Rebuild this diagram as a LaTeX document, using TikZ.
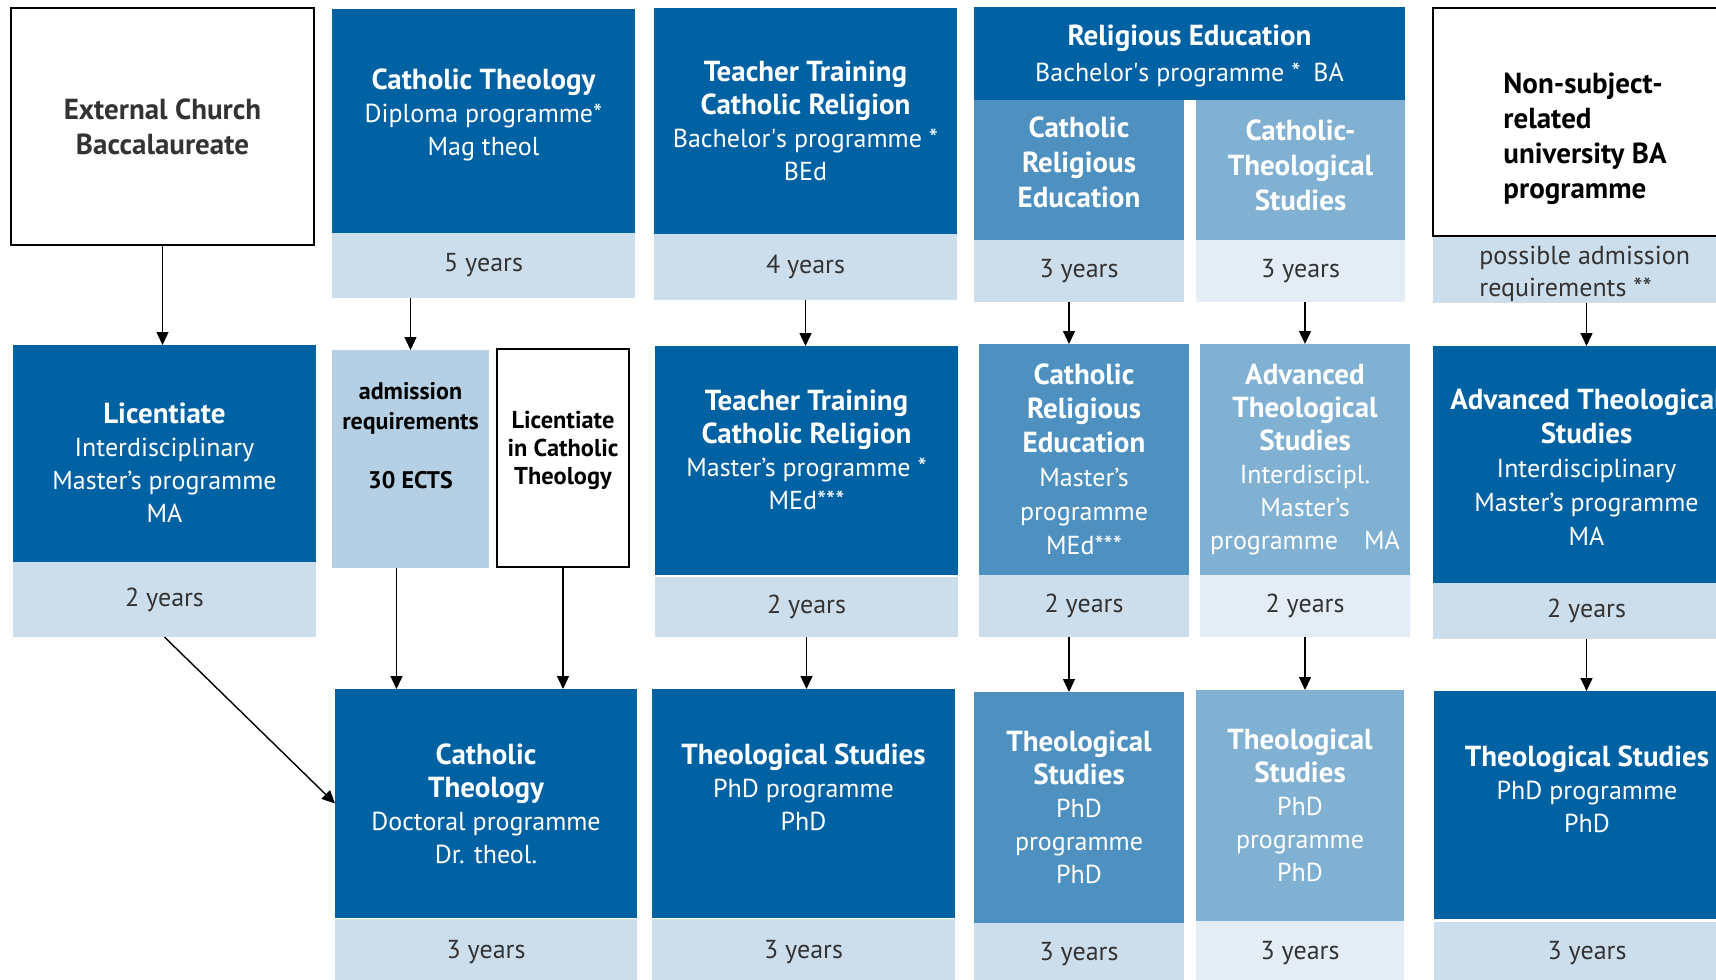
\documentclass[tikz,border=0pt]{standalone}
\usepackage{fontspec}
\setmainfont{PT Sans}
\usetikzlibrary{arrows.meta,calc,fit}

\definecolor{uniblue}{RGB}{0,98,163}
\definecolor{midblue}{RGB}{78,145,193}
\definecolor{paleblue}{RGB}{128,176,210}
\definecolor{bandblue}{RGB}{204,222,236}
\definecolor{admblue}{RGB}{181,208,228}
\definecolor{faintblue}{RGB}{228,237,246}
\definecolor{txtgray}{RGB}{51,51,51}

% programme titles
\newcommand{\ptitle}[1]{{\fontsize{14.5}{16.5}\selectfont\bfseries #1}}

\begin{document}
\begin{tikzpicture}[
  x=0.5pt, y=-0.5pt,
  > = {Triangle[length=6.5pt,width=6pt]},
  box/.style = {inner sep=0pt, outer sep=0pt},
  dark/.style = {box, fill=uniblue},
  mid/.style = {box, fill=midblue},
  pale/.style = {box, fill=paleblue},
  band/.style = {box, fill=bandblue},
  faint/.style = {box, fill=faintblue},
  frame/.style = {box, draw=black, line width=1.2pt, fill=white},
  wtxt/.style = {align=center, text=white, inner sep=0pt, font=\fontsize{13}{16.5}\selectfont},
  ktxt/.style = {wtxt, text=black},
  ytxt/.style = {wtxt, text=txtgray},
  arr/.style = {->, line width=0.7pt}
  ]
	\path[use as bounding box, fill=white] (0,0) rectangle (1716,979);
	\clip (0,0) rectangle (1716,979);

	% first row
	\node[frame, fit={(11,8)(314,245)}] (ext) {};
	\node[ktxt, text=txtgray, font=\fontsize{14.5}{17.5}\selectfont\bfseries] (ext-t) at (ext) {External Church\\Baccalaureate};

	\node[dark, fit={(332,9)(635,233)}] (ct) {};
	\node[wtxt] (ct-t) at ($(ct)+(0,-6)$) {\ptitle{Catholic Theology}\\Diploma programme*\\Mag theol};
	\node[band, fit={(332,233)(635,298)}] (ct-y) {};

	\node[dark, fit={(654,8)(957,234)}] (tt) {};
	\node[wtxt] (tt-t) at (tt) {\ptitle{Teacher Training}\\\ptitle{Catholic Religion}\\Bachelor\textquotesingle s programme *\\BEd};
	\node[band, fit={(654,234)(957,300)}] (tt-y) {};

	\node[dark, fit={(974,7)(1405,100)}] (re) {};
	\node[wtxt, font=\fontsize{13}{18}\selectfont] (re-t) at ($(re)+(0,2)$) {\ptitle{Religious Education}\\Bachelor\textquotesingle s programme *\enspace BA};
	\node[mid, fit={(974,100)(1184,240)}] (cre) {};
	\node[wtxt, font=\fontsize{13}{17.5}\selectfont] (cre-t) at ($(cre)+(0,-8)$) {\ptitle{Catholic}\\\ptitle{Religious}\\\ptitle{Education}};
	\node[band, fit={(974,240)(1184,302)}] (cre-y) {};
	\node[pale, fit={(1196,100)(1405,240)}] (cts) {};
	\node[wtxt, font=\fontsize{13}{17.5}\selectfont] (cts-t) at ($(cts)+(0,-5)$) {\ptitle{Catholic-}\\\ptitle{Theological}\\\ptitle{Studies}};
	\node[faint, fit={(1196,240)(1405,302)}] (cts-y) {};

	\node[frame, fit={(1433,8)(1740,236)}] (ns) {};
	\node[ktxt, align=left, anchor=west, font=\fontsize{14.5}{17.5}\selectfont\bfseries] (ns-t) at ($(ns.west)+(70,17)$) {Non-subject-\\related\\university BA\\programme};
	\node[band, fit={(1433,237)(1740,303)}] (ns-y) {};
	\node[ytxt, align=left, anchor=west, font=\fontsize{13}{16}\selectfont] (ns-y-t) at ($(ns-y.west)+(46,4)$) {possible admission\\requirements **};

	% second row
	\node[dark, fit={(13,345)(316,562)}] (lic) {};
	\node[wtxt] (lic-t) at ($(lic)+(0,9)$) {\ptitle{Licentiate}\\Interdisciplinary\\Master’s programme\\MA};
	\node[band, fit={(13,562)(316,637)}] (lic-y) {};

	\node[box, fill=admblue, fit={(332,350)(489,568)}] (adm) {};
	\node[ktxt, font=\fontsize{12}{15}\selectfont\bfseries] (adm-t) at ($(adm)+(0,-23)$) {admission\\requirements\\[14.5pt]30 ECTS};

	\node[frame, fit={(497,349)(629,567)}] (licct) {};
	\node[ktxt, font=\fontsize{12.2}{14}\selectfont\bfseries] (licct-t) at ($(licct)+(0,-8)$) {Licentiate\\in Catholic\\Theology};

	\node[dark, fit={(655,346)(958,575)}] (ttm) {};
	\node[wtxt] (ttm-t) at ($(ttm)+(0,-11)$) {\ptitle{Teacher Training}\\\ptitle{Catholic Religion}\\Master’s programme *\\MEd***};
	\node[band, fit={(655,577)(958,637)}] (ttm-y) {};

	\node[mid, fit={(979,344)(1189,575)}] (crem) {};
	\node[wtxt, font=\fontsize{13}{17}\selectfont] (crem-t) at (crem) {\ptitle{Catholic}\\\ptitle{Religious}\\\ptitle{Education}\\Master’s\\programme\\MEd***};
	\node[band, fit={(979,575)(1189,637)}] (crem-y) {};

	\node[pale, fit={(1200,344)(1410,575)}] (ats) {};
	\node[wtxt] (ats-t) at (ats) {\ptitle{Advanced}\\\ptitle{Theological}\\\ptitle{Studies}\\Interdiscipl.\\Master’s\\programme\quad MA};
	\node[faint, fit={(1200,575)(1410,637)}] (ats-y) {};

	\node[dark, fit={(1433,346)(1740,583)}] (adv) {};
	\node[wtxt, font=\fontsize{13}{17}\selectfont] (adv-t) at ($(adv)+(0,3)$) {\ptitle{Advanced Theological}\\\ptitle{Studies}\\Interdisciplinary\\Master’s programme\\MA};
	\node[band, fit={(1433,583)(1740,639)}] (adv-y) {};

	% third row
	\node[dark, fit={(335,689)(637,918)}] (doct) {};
	\node[wtxt] (doct-t) at (doct) {\ptitle{Catholic}\\\ptitle{Theology}\\Doctoral programme\\Dr. theol.};
	\node[band, fit={(335,919)(637,985)}] (doct-y) {};

	\node[dark, fit={(652,689)(955,918)}] (ts) {};
	\node[wtxt] (ts-t) at ($(ts)+(0,-16)$) {\ptitle{Theological Studies}\\PhD programme\\PhD};
	\node[band, fit={(652,919)(955,985)}] (ts-y) {};

	\node[mid, fit={(974,692)(1184,923)}] (tscre) {};
	\node[wtxt] (tscre-t) at (tscre) {\ptitle{Theological}\\\ptitle{Studies}\\PhD\\programme\\PhD};
	\node[band, fit={(974,923)(1184,985)}] (tscre-y) {};

	\node[pale, fit={(1196,690)(1404,921)}] (tscts) {};
	\node[wtxt] (tscts-t) at (tscts) {\ptitle{Theological}\\\ptitle{Studies}\\PhD\\programme\\PhD};
	\node[faint, fit={(1196,921)(1404,985)}] (tscts-y) {};

	\node[dark, fit={(1434,691)(1740,919)}] (tsr) {};
	\node[wtxt] (tsr-t) at ($(tsr)+(0,-16)$) {\ptitle{Theological Studies}\\PhD programme\\PhD};
	\node[band, fit={(1434,922)(1740,985)}] (tsr-y) {};

	% durations
	\foreach \b/\t in {ct-y/5 years, tt-y/4 years, cre-y/3 years, cts-y/3 years,
	                   lic-y/2 years, ttm-y/2 years, crem-y/2 years, ats-y/2 years, adv-y/2 years,
	                   doct-y/3 years, ts-y/3 years, tscre-y/3 years, tscts-y/3 years, tsr-y/3 years}
		\node[ytxt] (\b-t) at (\b) {\t};

	% arrows
	\draw[arr] (ext.south) -- (ext.south |- lic.north);
	\draw[arr] (adm.north |- ct-y.south) -- (adm.north);
	\draw[arr] (tt-y.south) -- (tt-y.south |- ttm.north);
	\draw[arr] ([xshift=-5pt]cre-y.south) -- ([xshift=-5pt]cre-y.south |- crem.north);
	\draw[arr] (ats.north |- cts-y.south) -- (ats.north);
	\draw[arr] (adv.north |- ns-y.south) -- (adv.north);

	\draw[arr] (lic-y.south) -- (doct.west);
	\draw[arr] ([xshift=-7pt]adm.south) -- ([xshift=-7pt]adm.south |- doct.north);
	\draw[arr] (licct.south) -- (licct.south |- doct.north);
	\draw[arr] (ttm-y.south) -- (ttm-y.south |- ts.north);
	\draw[arr] ([xshift=-5pt]tscre.north |- crem-y.south) -- ([xshift=-5pt]tscre.north);
	\draw[arr] (ats-y.south) -- (ats-y.south |- tscts.north);
	\draw[arr] (adv-y.south) -- (adv-y.south |- tsr.north);
\end{tikzpicture}
\end{document}
